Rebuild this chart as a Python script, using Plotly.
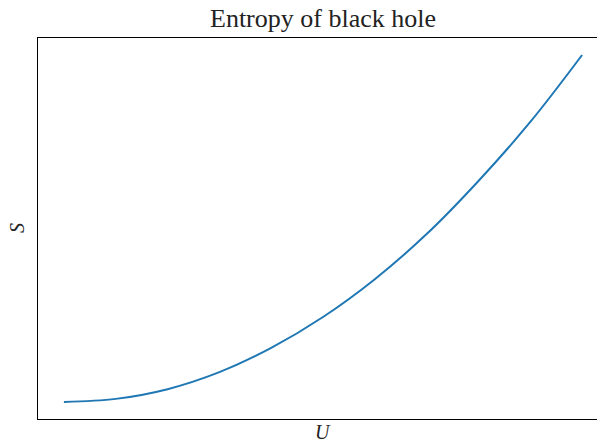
import plotly.graph_objects as go

# Values (arbitrary units, no ticks shown)
energy_U = [0.0, 0.1, 0.2, 0.3, 0.4, 0.5, 0.6, 0.7, 0.8, 0.9, 1.0]
entropy_S = [0.0, 0.009, 0.037, 0.086, 0.156, 0.245, 0.354, 0.484, 0.637, 0.807, 1.0]

title_text = "Entropy of black hole"
x_label = "U"
y_label = "S"

fig = go.Figure()
fig.add_trace(go.Scatter(
    x=energy_U, y=entropy_S, mode="lines",
    line=dict(color="#1f77b4", width=2, shape="spline"),
    showlegend=False, hoverinfo="skip",
))

serif = "Liberation Serif, DejaVu Serif, serif"
fig.update_layout(
    width=608, height=443,
    margin=dict(l=38, r=0, t=38, b=24),
    paper_bgcolor="white", plot_bgcolor="white",
    font=dict(family=serif, color="#222222"),
)
fig.update_xaxes(
    range=[-0.05, 1.05], showticklabels=False, ticks="", showgrid=False,
    zeroline=False, showline=True, linecolor="black", linewidth=1.2, mirror=True,
)
fig.update_yaxes(
    range=[-0.049, 1.049], showticklabels=False, ticks="", showgrid=False,
    zeroline=False, showline=True, linecolor="black", linewidth=1.2, mirror=True,
)
fig.add_annotation(text=title_text, xref="paper", yref="paper", x=0.5, y=1,
                   yshift=3, xanchor="center", yanchor="bottom", showarrow=False,
                   font=dict(family=serif, size=26, color="#222222"))
fig.add_annotation(text="<i>" + x_label + "</i>", xref="paper", yref="paper", x=0.5, y=0,
                   yshift=0, xanchor="center", yanchor="top", showarrow=False,
                   font=dict(family=serif, size=20, color="#222222"))
fig.add_annotation(text="<i>" + y_label + "</i>", xref="paper", yref="paper", x=0, y=(419-228)/381,
                   xshift=-8, xanchor="right", yanchor="middle", showarrow=False, textangle=-90,
                   font=dict(family=serif, size=20, color="#222222"))

fig.write_html("out.html", config={"displayModeBar": False},
               post_script="document.body.style.margin='0px';document.body.style.overflow='hidden';")
